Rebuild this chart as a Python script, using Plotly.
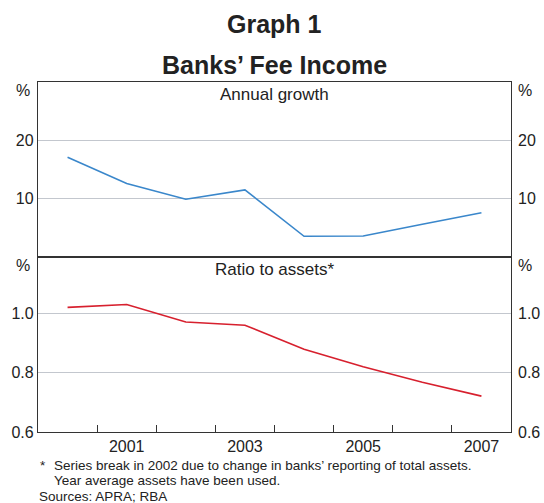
import plotly.graph_objects as go
from plotly.subplots import make_subplots

years = [2000, 2001, 2002, 2003, 2004, 2005, 2006, 2007]
annual_growth = [17.1, 12.6, 9.9, 11.5, 3.55, 3.6, 5.6, 7.6]
ratio_to_assets = [1.02, 1.03, 0.971, 0.96, 0.879, 0.82, 0.768, 0.721]

year_labels = [2001, 2003, 2005, 2007]
top_ticks = [10, 20]
bot_ticks = [0.6, 0.8, 1.0]

FONT = "Liberation Sans, Arial, sans-serif"
AX = "#333333"
GRID = "#C3C7CE"
BLUE = "#3A87CB"
RED = "#D7202E"
TXT = "#222222"
TICK = 16
FOOT = 13.5

fig = make_subplots(rows=2, cols=1, shared_xaxes=True, vertical_spacing=0)

fig.add_trace(go.Scatter(x=years, y=annual_growth, mode="lines",
                         line=dict(color=BLUE, width=1.6), showlegend=False), row=1, col=1)
fig.add_trace(go.Scatter(x=years, y=ratio_to_assets, mode="lines",
                         line=dict(color=RED, width=1.6), showlegend=False), row=2, col=1)

W, H = 544, 503
L, R, T, B = 37.5, 33, 81.7, 71.3

xr = [1999.5, 2007.5]
half_years = [y + 0.5 for y in years[:-1]]
top_range = [0, 30]
bot_range = [0.6, 1.19]

common_x = dict(range=xr, showline=True, linecolor=AX, linewidth=1.3, mirror=True,
                showgrid=False, zeroline=False)
fig.update_xaxes(**common_x, showticklabels=False, ticks="", row=1, col=1)
fig.update_xaxes(**common_x, tickvals=year_labels, ticktext=[str(v) for v in year_labels],
                 ticks="", tickfont=dict(family=FONT, size=TICK, color=TXT),
                 minor=dict(tickvals=half_years, ticks="inside", ticklen=7,
                            tickcolor=AX, tickwidth=1, showgrid=False),
                 row=2, col=1)

common_y = dict(showline=True, linecolor=AX, linewidth=1.3, mirror=True,
                gridcolor=GRID, gridwidth=1, zeroline=False, ticks="",
                tickfont=dict(family=FONT, size=TICK, color=TXT))
fig.update_yaxes(**common_y, range=top_range, tickvals=top_ticks, row=1, col=1)
fig.update_yaxes(**common_y, range=bot_range, tickvals=bot_ticks,
                 tickformat=".1f", row=2, col=1)

ph = H - T - B
pw = W - L - R
def py(pix):
    return (H - B - pix) / ph
def px(pix):
    return (pix - L) / pw

ann = []
def txt(x, y, s, xref="paper", yref="paper", size=15, xanchor="center"):
    ann.append(dict(x=x, y=y, xref=xref, yref=yref, text=s,
                    showarrow=False, xanchor=xanchor, yanchor="middle",
                    font=dict(family=FONT, size=size, color=TXT)))

# right-hand tick labels mirror the left axis values
for v in top_ticks:
    txt(1.01, v, str(v), yref="y", size=TICK, xanchor="left")
for v in bot_ticks:
    txt(1.01, v, f"{v:.1f}", yref="y2", size=TICK, xanchor="left")

for yref in ["y domain", "y2 domain"]:
    txt(-0.012, 0.95, "%", yref=yref, size=TICK, xanchor="right")
    txt(1.01, 0.95, "%", yref=yref, size=TICK, xanchor="left")

txt(0.5, 0.93, "Annual growth", yref="y domain", size=17)
txt(0.5, 0.93, "Ratio to assets*", yref="y2 domain", size=17)

txt(0.5, py(24), "<b>Graph 1</b>", size=25)
txt(0.5, py(65), "<b>Banks’ Fee Income</b>", size=25)
txt(px(38), py(465), "*", size=FOOT, xanchor="left")
txt(px(52), py(465), "Series break in 2002 due to change in banks’ reporting of total assets.",
    size=FOOT, xanchor="left")
txt(px(52), py(480.5), "Year average assets have been used.", size=FOOT, xanchor="left")
txt(px(36), py(496), "Sources: APRA; RBA", size=FOOT, xanchor="left")

fig.update_layout(
    annotations=ann,
    width=W, height=H,
    margin=dict(l=L, r=R, t=T, b=B),
    paper_bgcolor="white", plot_bgcolor="white",
    font=dict(family=FONT, color=TXT),
)

fig.write_html("out.html", config={"displayModeBar": False})

with open("out.html", "r", encoding="utf-8") as f:
    html = f.read()
html = html.replace("<body>", "<body style=\"margin:0;padding:0;overflow:hidden\">", 1)
with open("out.html", "w", encoding="utf-8") as f:
    f.write(html)
